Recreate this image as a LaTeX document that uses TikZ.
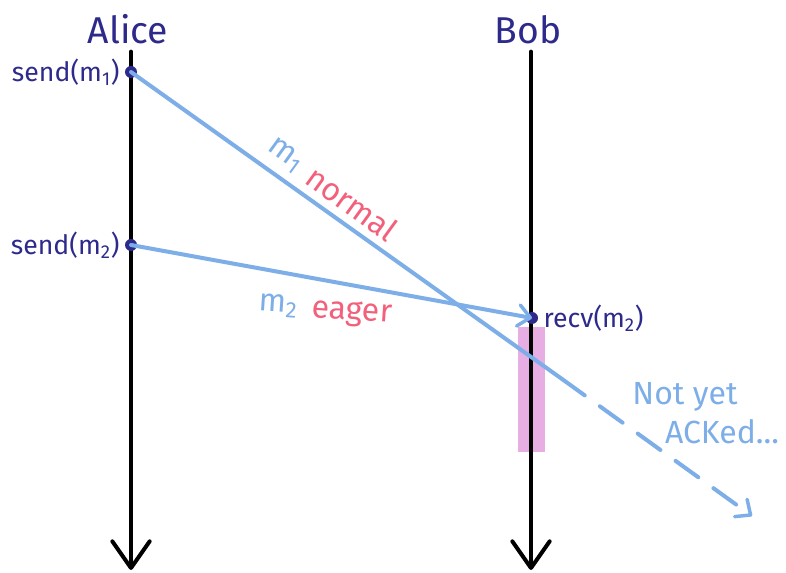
\documentclass[tikz,border=0pt]{standalone}
\usepackage{fontspec}
\setmainfont{Fira Sans}
\usetikzlibrary{arrows.meta}
\definecolor{navy}{HTML}{2D2A8C}
\definecolor{msgblue}{HTML}{7DAEE8}
\definecolor{hotpink}{HTML}{F2607C}
\definecolor{lilac}{HTML}{E6AEE3}
\begin{document}
\begin{tikzpicture}[x=0.75pt,y=-0.75pt,
  life/.style={line width=3.6pt, line cap=round, -{Straight Barb[length=20pt,width=28pt,line width=3pt,round]}},
  msg/.style={msgblue, line width=3pt, line cap=round},
  msgarrow/.style={msg, -{Straight Barb[length=9pt,width=16pt,line width=2.6pt,round]}},
  dot/.style={circle, fill=navy, inner sep=0pt, minimum size=9pt},
  who/.style={navy, font=\fontsize{28}{33}\selectfont},
  evt/.style={navy, font=\fontsize{20}{24}\selectfont, inner sep=1pt},
  lbl/.style={font=\fontsize{24}{28}\selectfont, inner sep=0pt},
  note/.style={msgblue, font=\fontsize{24}{28}\selectfont, inner sep=1pt}]
\useasboundingbox (0,0) rectangle (786,573);
% activation bar
\fill[lilac] (518,327) rectangle (545,452);
% lifelines
\coordinate (aTop) at (131,52);
\coordinate (aBot) at (131,570);
\coordinate (bTop) at (531,52);
\coordinate (bBot) at (531,570);
\draw[life] (aTop) -- (aBot);
\draw[life] (bTop) -- (bBot);
\node[who, anchor=base] (alice) at (128,44) {Alice};
\node[who, anchor=base] (bob) at (528,44) {Bob};
% events
\node[dot] (s1) at (131,72) {};
\node[dot] (s2) at (131,245) {};
\node[dot] (r2) at (532,318) {};
\node[evt, anchor=east] (s1l) at (121,72) {send(m\textsubscript{1})};
\node[evt, anchor=east] (s2l) at (121,245) {send(m\textsubscript{2})};
\node[evt, anchor=west] (r2l) at (542,318) {recv(m\textsubscript{2})};
% messages
\coordinate (m1b) at (562,379);
\coordinate (m1e) at (752,516);
\draw[msg] (s1.center) -- (m1b);
\draw[msgarrow, dash pattern=on 21pt off 14pt] (m1b) -- (m1e);
\draw[msgarrow] (s2.center) -- (r2.center);
% labels
\node[lbl, msgblue, rotate=-36] (m1n) at (285,156) {m\textsubscript{1}};
\node[lbl, hotpink, rotate=-36] (m1t) at (352,203) {normal};
\node[lbl, msgblue, rotate=-4] (m2n) at (278,306) {m\textsubscript{2}};
\node[lbl, hotpink, rotate=-4] (m2t) at (352,314) {eager};
\node[note] (ny) at (685,397) {Not yet};
\node[note] (ack) at (722,432) {ACKed...};
\end{tikzpicture}
\end{document}
